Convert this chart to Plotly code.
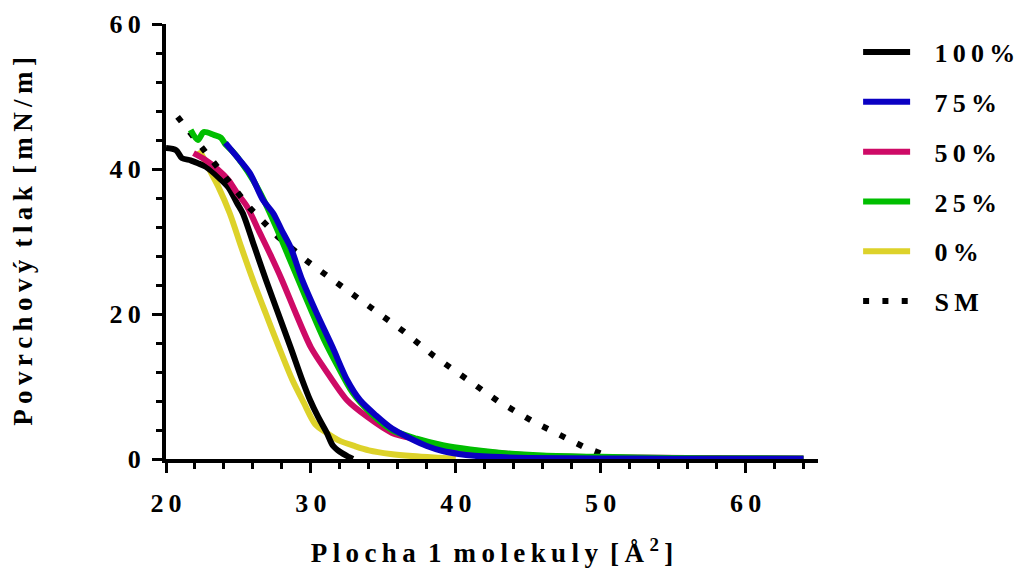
import plotly.graph_objects as go

# Surface pressure isotherms: area per molecule [Å²] vs surface pressure [mN/m]
x_100 = [20.0, 20.7, 21.1, 21.7, 22.2, 22.75, 23.6, 24.3, 24.9, 25.3, 26.1, 26.9, 27.7,
         28.6, 29.4, 29.95, 30.5, 31.1, 31.5, 32.0, 32.6, 32.9]
y_100 = [42.9, 42.6, 41.5, 41.2, 40.8, 40.3, 38.9, 37.5, 35.3, 33.9, 29.3, 24.7, 20.3,
         15.4, 10.9, 8.1, 5.8, 3.6, 1.9, 1.0, 0.3, 0.0]

x_75 = [24.1, 24.6, 25.1, 25.8, 26.7, 27.4, 28.0, 28.6, 29.4, 30.4, 31.5, 32.5, 33.4,
        34.5, 35.6, 36.8, 38.0, 39.1, 40.2, 41.3, 42.5, 45.0, 50.0, 55.0, 60.0, 64.0]
y_75 = [43.6, 42.4, 41.2, 39.4, 35.7, 33.9, 31.5, 29.2, 24.7, 20.1, 15.4, 10.9, 8.1,
        6.0, 4.2, 2.9, 1.8, 1.1, 0.7, 0.45, 0.3, 0.15, 0.08, 0.05, 0.05, 0.05]

x_50 = [21.9, 22.6, 23.6, 24.3, 24.9, 25.6, 26.4, 27.2, 28.0, 29.0, 30.0, 31.0, 32.5,
        33.9, 35.6, 37.5, 39.1, 41.0, 42.5, 45.0, 48.0, 52.0, 56.0, 60.0, 64.0]
y_50 = [42.2, 41.4, 39.9, 38.5, 36.7, 34.8, 31.5, 28.2, 24.7, 19.9, 15.4, 12.3, 8.1,
        5.8, 3.6, 2.6, 1.8, 1.2, 0.9, 0.5, 0.3, 0.2, 0.15, 0.1, 0.08]

x_25 = [21.7, 22.2, 22.6, 23.3, 23.8, 24.1, 24.6, 25.2, 26.0, 26.8, 27.6, 28.4, 29.2,
        30.0, 30.9, 31.8, 32.9, 34.2, 35.6, 37.3, 39.1, 41.0, 43.0, 46.0, 50.0, 55.0,
        60.0, 64.0]
y_25 = [45.4, 44.0, 45.1, 44.7, 44.3, 43.4, 42.4, 40.9, 38.5, 35.5, 32.0, 28.2, 24.4,
        20.6, 16.5, 13.0, 9.1, 6.2, 4.0, 2.8, 1.9, 1.3, 0.85, 0.5, 0.3, 0.15, 0.1, 0.08]

x_0 = [22.3, 22.6, 23.0, 23.6, 24.4, 25.2, 26.0, 26.9, 27.8, 28.7, 29.5, 30.3, 31.1,
       32.0, 33.0, 34.0, 35.5, 37.0, 38.5, 40.0]
y_0 = [42.6, 41.5, 39.9, 37.6, 33.9, 29.2, 24.7, 20.0, 15.4, 11.0, 7.8, 4.8, 3.6,
       2.5, 1.8, 1.2, 0.7, 0.4, 0.2, 0.05]

x_sm = [20.8, 22.5, 24.2, 25.8, 27.7, 29.8, 32.0, 34.2, 36.4, 38.5, 40.7, 42.9, 45.3,
        47.6, 48.8, 50.1]
y_sm = [47.2, 43.0, 38.8, 34.6, 30.7, 27.2, 24.0, 20.8, 17.6, 14.2, 11.0, 8.0, 5.2,
        2.8, 1.7, 0.7]

TS = "\u2009"  # thin space used for the letter-spaced lettering
WS = " \u2009"  # wider gap between words

x_tick_vals = [20, 30, 40, 50, 60]
x_tick_labels = [TS.join(str(v)) for v in x_tick_vals]
y_tick_vals = [0, 20, 40, 60]
y_tick_labels = [TS.join(str(v)) for v in y_tick_vals]

FONT = dict(family="Liberation Serif", color="black", weight="bold")


def spaced(text):
    return WS.join(TS.join(word) for word in text.split(" "))


LEGEND_PAD = "\u2002\u2005"

# (name, x, y, colour, dash, shape, legend rank) in drawing order
series = [
    ("0%", x_0, y_0, "#DDD22A", "solid", "spline", 5),
    ("100%", x_100, y_100, "#000000", "solid", "spline", 1),
    ("50%", x_50, y_50, "#CE0A66", "solid", "spline", 3),
    ("SM", x_sm, y_sm, "#000000", "6px,13.3px", "linear", 6),
    ("25%", x_25, y_25, "#00BE00", "solid", "spline", 4),
    ("75%", x_75, y_75, "#0A00C3", "solid", "spline", 2),
]

fig = go.Figure()
for name, xs, ys, col, dash, shape, rank in series:
    line = dict(color=col, width=6, dash=dash, shape=shape)
    if shape == "spline":
        line["smoothing"] = 0.8
    fig.add_trace(go.Scatter(
        x=xs, y=ys, mode="lines", name=LEGEND_PAD + spaced(name),
        line=line, legendrank=rank, legendgroup=name,
    ))

fig.update_layout(
    width=1024, height=570,
    margin=dict(l=166, r=206, t=24, b=111),
    paper_bgcolor="white", plot_bgcolor="white",
    font=dict(size=26, **FONT),
    showlegend=True,
    legend=dict(
        xref="container", yref="container", x=0.838, y=0.9497,
        xanchor="left", yanchor="top",
        font=dict(size=26, **FONT),
        traceorder="grouped", tracegroupgap=13, itemwidth=47,
        maxheight=560,
        bgcolor="rgba(0,0,0,0)",
    ),
)

fig.update_xaxes(
    range=[20, 65], showgrid=False, zeroline=False, automargin=False,
    showline=True, linecolor="black", linewidth=4,
    ticks="outside", ticklen=10, tickwidth=3, tickcolor="black",
    tickvals=x_tick_vals, ticktext=x_tick_labels, ticklabelstandoff=8,
    tickfont=dict(size=26, **FONT),
    minor=dict(dtick=2, ticks="outside", ticklen=6, tickwidth=3, tickcolor="black",
               showgrid=False),
    title=dict(text=spaced("Plocha 1 molekuly") + WS + "[" + TS + "Å" + TS
               + "<sup>2</sup>" + TS + "]",
               font=dict(size=27, **FONT), standoff=27),
)
fig.update_yaxes(
    range=[0, 60], showgrid=False, zeroline=False, automargin=False,
    showline=True, linecolor="black", linewidth=4,
    ticks="outside", ticklen=10, tickwidth=3, tickcolor="black",
    tickvals=y_tick_vals, ticktext=y_tick_labels, ticklabelstandoff=6,
    tickfont=dict(size=26, **FONT),
    minor=dict(dtick=4, ticks="outside", ticklen=6, tickwidth=3, tickcolor="black",
               showgrid=False),
    title=dict(text=spaced("Povrchový tlak [mN/m]"),
               font=dict(size=27, **FONT), standoff=70),
)

fig.write_html("out.html")
